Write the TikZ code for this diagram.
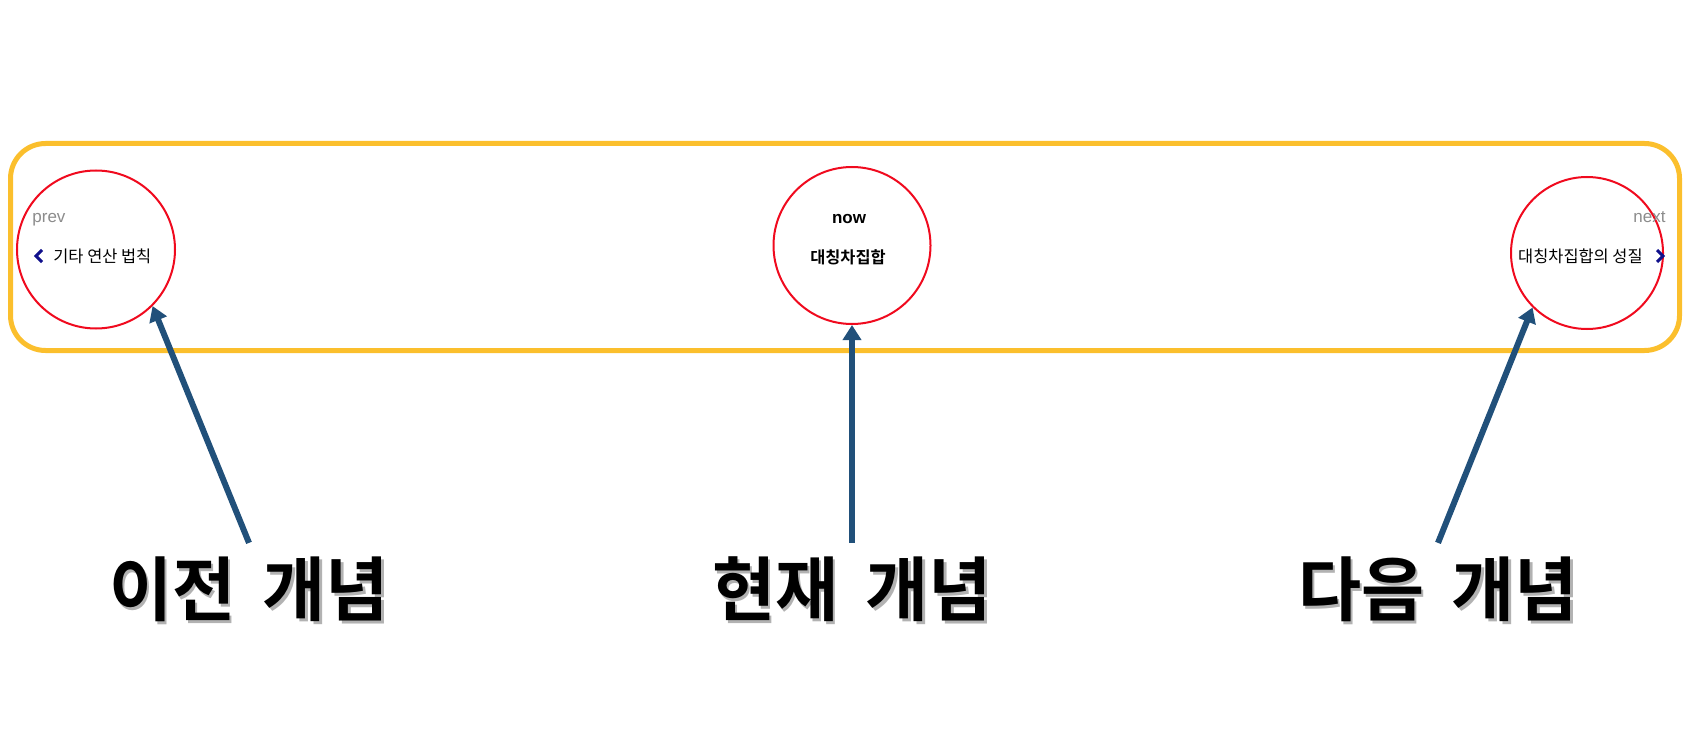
\documentclass[tikz,border=0pt]{standalone}
\usepackage{fontspec}
\setmainfont{Liberation Sans}
\newfontfamily\kofont{Noto Sans CJK KR}[BoldFont={Noto Sans CJK KR Bold}]
\usetikzlibrary{arrows.meta,positioning}
\definecolor{barline}{RGB}{251,191,45}
\definecolor{ringred}{RGB}{240,10,30}
\definecolor{arrowblue}{RGB}{33,80,122}
\definecolor{chevblue}{RGB}{16,16,140}
\newcommand{\shadowed}[1]{\makebox[0pt][l]{\hspace{1.2pt}\raisebox{-1.5pt}{\color{black!30}#1}}#1}
\tikzstyle{container} = [draw=barline, rectangle, rounded corners=17.5pt, line width=2.5pt, minimum width=834.5pt, minimum height=103.5pt]
\tikzstyle{ring} = [draw=ringred, circle, line width=1pt, fill=white]
\tikzstyle{small} = [inner sep=0pt, font=\fontsize{8.5pt}{10pt}\selectfont]
\tikzstyle{hint} = [small, text=black!45]
\tikzstyle{concept} = [inner sep=0pt, font=\kofont\fontsize{8.2pt}{9pt}\selectfont]
\tikzstyle{caption} = [inner sep=6.5pt, anchor=base, font=\kofont\bfseries\fontsize{35pt}{40pt}\selectfont]
\tikzstyle{chevron} = [draw=chevblue, line width=1.5pt]
\tikzstyle{line} = [draw=arrowblue, line width=3pt, -{Triangle[width=9pt,length=7.5pt]}]

\begin{document}
\begin{tikzpicture}[x=0.5pt, y=-0.5pt]
	\useasboundingbox (0,0) rectangle (1696,754);
	\node [container] (bar) at (845,247) {};

	\node [ring, minimum size=79pt] (prevc) at (96,249.5) {};
	\node [ring, minimum size=78.5pt] (nowc) at (852,245.5) {};
	\node [ring, minimum size=76pt] (nextc) at (1587,253) {};

	\node [hint, anchor=base west] (prevtag) at (32,223) {prev};
	\node [concept, anchor=west] (prevname) at (53,256) {기타 연산 법칙};
	\node [small, font=\bfseries\fontsize{8.5pt}{10pt}\selectfont, anchor=base] (nowtag) at (849,224) {now};
	\node [concept, font=\kofont\bfseries\fontsize{8.2pt}{9pt}\selectfont] (nowname) at (848,257) {대칭차집합};
	\node [hint, anchor=base east] (nexttag) at (1666,223) {next};
	\node [concept, anchor=east] (nextname) at (1643,256) {대칭차집합의 성질};

	\coordinate (prevarm1) at (42,250);
	\coordinate (prevtip) at (36,256);
	\coordinate (prevarm2) at (42,262);
	\coordinate (nextarm1) at (1657,250);
	\coordinate (nexttip) at (1663,256);
	\coordinate (nextarm2) at (1657,262);
	\path [chevron] (prevarm1) -- (prevtip) -- (prevarm2);
	\path [chevron] (nextarm1) -- (nexttip) -- (nextarm2);

	\node [caption] (prevlbl) at (249,615) {\scalebox{0.98}[1]{\shadowed{이전\hspace{0.4em}개념}}};
	\node [caption] (nowlbl) at (852,615) {\scalebox{0.98}[1]{\shadowed{현재\hspace{0.4em}개념}}};
	\node [caption] (nextlbl) at (1438,615) {\scalebox{0.98}[1]{\shadowed{다음\hspace{0.4em}개념}}};

	\path [line] (prevlbl.north) -- (prevc.-45);
	\path [line] (nowlbl.north) -- (nowc.south);
	\path [line] (nextlbl.north) -- (nextc.-135);
\end{tikzpicture}
\end{document}
